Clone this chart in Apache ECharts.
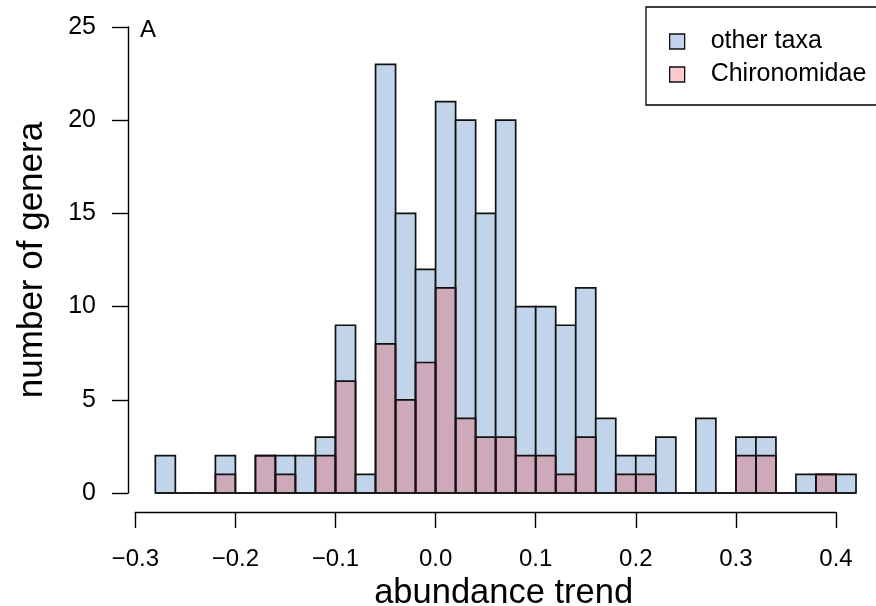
<!DOCTYPE html>
<html>
<head>
<meta charset="utf-8">
<script src="https://cdn.jsdelivr.net/npm/echarts@6/dist/echarts.min.js"></script>
<style>
  html, body { margin: 0; padding: 0; background: #fff; overflow: hidden; }
  #chart { width: 876px; height: 606px; }
</style>
</head>
<body>
<div id="chart"></div>
<script>
// Histogram bin edges (width 0.02)
var breaks = [-0.28, -0.26, -0.24, -0.22, -0.20, -0.18, -0.16, -0.14, -0.12, -0.10,
              -0.08, -0.06, -0.04, -0.02, 0.00, 0.02, 0.04, 0.06, 0.08, 0.10,
              0.12, 0.14, 0.16, 0.18, 0.20, 0.22, 0.24, 0.26, 0.28, 0.30,
              0.32, 0.34, 0.36, 0.38, 0.40, 0.42];

// Counts per bin: all genera (drawn first) and Chironomidae (overlaid)
var otherTaxa = [2, 0, 0, 2, 0, 2, 2, 2, 3, 9,
                 1, 23, 15, 12, 21, 20, 15, 20, 10, 10,
                 9, 11, 4, 2, 2, 3, 0, 4, 0, 3,
                 3, 0, 1, 1, 1];
var chironomidae = [0, 0, 0, 1, 0, 2, 1, 0, 2, 6,
                    0, 8, 5, 7, 11, 4, 3, 3, 2, 2,
                    1, 3, 0, 1, 1, 0, 0, 0, 0, 2,
                    2, 0, 0, 1, 0];

var xTicks = [-0.3, -0.2, -0.1, 0.0, 0.1, 0.2, 0.3, 0.4];
var yTicks = [0, 5, 10, 15, 20, 25];

var blueFill = '#C2D4E9';
var pinkFill = 'rgba(250,0,0,0.2)';

function binRows(counts) {
  return counts.map(function (c, i) { return [breaks[i], breaks[i + 1], c]; });
}

// Each bin is a rectangle from its lower to upper edge, down to zero
function histRenderer(fill) {
  return function (params, api) {
    var topLeft = api.coord([api.value(0), api.value(2)]);
    var bottomRight = api.coord([api.value(1), 0]);
    return {
      type: 'rect',
      shape: {
        x: topLeft[0],
        y: topLeft[1],
        width: bottomRight[0] - topLeft[0],
        height: bottomRight[1] - topLeft[1]
      },
      style: { fill: fill, stroke: '#111', lineWidth: 1.7 }
    };
  };
}

var font = '"Liberation Sans", Arial, Helvetica, sans-serif';

var chart = echarts.init(document.getElementById('chart'), null, { renderer: 'canvas', width: 876, height: 606 });
chart.setOption({
  animation: false,
  backgroundColor: '#fff',
  textStyle: { fontFamily: font, color: '#000' },
  title: {
    text: 'A',
    left: 135,
    top: 13,
    textStyle: { fontFamily: font, fontSize: 24, fontWeight: 'normal', color: '#000' }
  },
  legend: {
    orient: 'vertical',
    left: 646,
    top: 7,
    padding: [22, 60, 18, 23],
    itemWidth: 15,
    itemHeight: 15,
    itemGap: 8,
    icon: 'rect',
    borderColor: '#000',
    borderWidth: 1.3,
    borderRadius: 0,
    backgroundColor: '#fff',
    itemStyle: { borderColor: '#111', borderWidth: 1.3 },
    textStyle: { fontFamily: font, fontSize: 25, lineHeight: 25, color: '#000', padding: [0, 0, 0, 21] },
    data: [
      { name: 'other taxa', itemStyle: { color: blueFill } },
      { name: 'Chironomidae', itemStyle: { color: '#FCCBCB' } }
    ]
  },
  grid: { left: 135.3, right: 40, top: 27, height: 466, outerBoundsMode: 'none', containLabel: false },
  xAxis: {
    type: 'value',
    min: xTicks[0],
    max: xTicks[xTicks.length - 1],
    interval: 0.1,
    offset: 19,
    name: 'abundance trend',
    nameLocation: 'middle',
    nameGap: 56,
    nameTextStyle: { fontFamily: font, fontSize: 34.5, color: '#000', padding: [0, 0, 0, 36] },
    axisLine: { show: true, onZero: false, lineStyle: { color: '#000', width: 1.4 } },
    axisTick: { show: true, length: 16, inside: false, lineStyle: { color: '#000', width: 1.4 } },
    axisLabel: {
      fontFamily: font, fontSize: 24, color: '#000', margin: 35,
      formatter: function (v) {
        return v.toFixed(1).replace('-', '\u2212');
      }
    },
    splitLine: { show: false }
  },
  yAxis: {
    type: 'value',
    min: yTicks[0],
    max: yTicks[yTicks.length - 1],
    interval: 5,
    offset: 7.3,
    name: 'number of genera',
    nameLocation: 'middle',
    nameGap: 78,
    nameRotate: 90,
    nameTextStyle: { fontFamily: font, fontSize: 35, color: '#000' },
    axisLine: { show: true, onZero: false, lineStyle: { color: '#000', width: 1.4 } },
    axisTick: { show: true, length: 16, inside: false, lineStyle: { color: '#000', width: 1.4 } },
    axisLabel: { fontFamily: font, fontSize: 25, color: '#000', margin: 32 },
    splitLine: { show: false }
  },
  series: [
    {
      name: 'other taxa',
      type: 'custom',
      clip: false,
      itemStyle: { color: blueFill },
      encode: { x: [0, 1], y: 2 },
      data: binRows(otherTaxa),
      renderItem: histRenderer(blueFill)
    },
    {
      name: 'Chironomidae',
      type: 'custom',
      clip: false,
      itemStyle: { color: pinkFill },
      encode: { x: [0, 1], y: 2 },
      data: binRows(chironomidae),
      renderItem: histRenderer(pinkFill)
    }
  ]
});
</script>
</body>
</html>
